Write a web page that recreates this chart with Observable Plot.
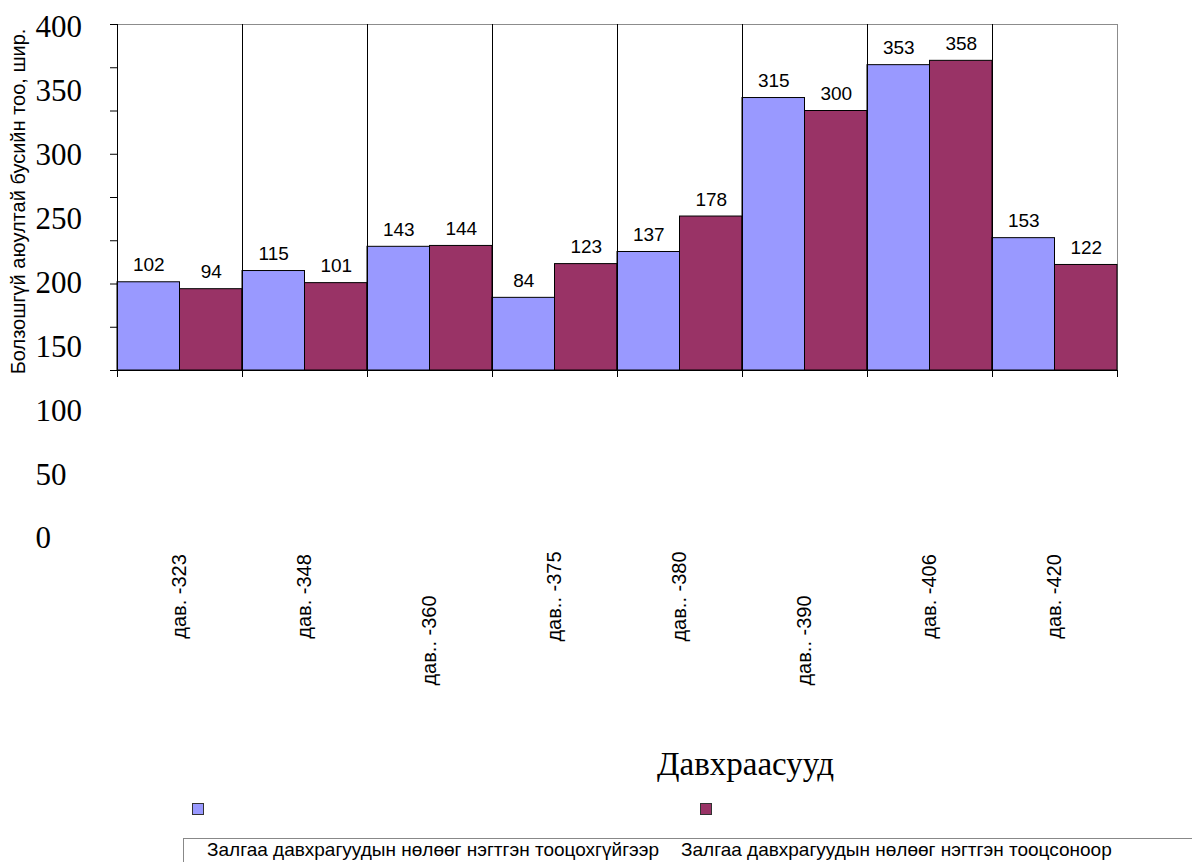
<!DOCTYPE html>
<html><head><meta charset="utf-8">
<script src="https://cdn.jsdelivr.net/npm/d3@7"></script>
<script src="https://cdn.jsdelivr.net/npm/@observablehq/plot@0.6"></script>
<style>
html,body{margin:0;padding:0;background:#fff;}
#wrap{position:relative;width:1192px;height:862px;overflow:hidden;font-family:"Liberation Sans",Arial,sans-serif;}
#wrap svg{position:absolute;left:0;top:0;}
#legend{position:absolute;left:0;top:790px;width:1192px;height:72px;}
.sw{position:absolute;top:13px;width:10px;height:10px;border:1px solid #333;}
.box{position:absolute;left:183px;top:48px;right:-2px;height:40px;border-top:1px solid #888;border-left:1px solid #888;}
.lt{position:absolute;top:49px;font-size:19px;line-height:22px;color:#000;white-space:nowrap;}
</style></head><body><div id="wrap"></div>
<script>
const categories = ["дав. -323", "дав. -348", "дав.. -360", "дав.. -375", "дав.. -380", "дав.. -390", "дав. -406", "дав. -420"];
const seriesNames = ["Залгаа давхрагуудын нөлөөг нэгтгэн тооцохгүйгээр", "Залгаа давхрагуудын нөлөөг нэгтгэн тооцсоноор"];
const valuesWithout = [102, 115, 143, 84, 137, 315, 353, 153];
const valuesWith = [94, 101, 144, 123, 178, 300, 358, 122];
const seriesColors = ["#9999FF", "#993366"];
const yTicks = [0, 50, 100, 150, 200, 250, 300, 350, 400];
const yTitle = "Болзошгүй аюултай бусийн тоо, шир.";
const xTitle = "Давхраасууд";

const rows = categories.flatMap((cat, i) => [
  {cat, i, s: 0, series: seriesNames[0], value: valuesWithout[i]},
  {cat, i, s: 1, series: seriesNames[1], value: valuesWith[i]}
]);
const n = categories.length;
const boundaries = d3.range(n + 1);
const lowered = new Set(["дав.. -360", "дав.. -390"]);
const sans = '"Liberation Sans", Arial, sans-serif';
const serif = '"Liberation Serif", "Times New Roman", serif';
const W = 1192, H = 862;

const main = Plot.plot({
  width: W, height: H,
  marginTop: 24, marginRight: 75, marginBottom: 492, marginLeft: 117,
  style: {fontFamily: sans, background: "transparent"},
  x: {domain: [0, n]},
  y: {domain: [0, 400]},
  color: {domain: seriesNames, range: seriesColors},
  marks: [
    Plot.frame({stroke: "#8c8c8c"}),
    Plot.rectY(rows, {x1: d => d.i + d.s / 2, x2: d => d.i + (d.s + 1) / 2, y: "value", fill: "series", stroke: "black", strokeWidth: 1}),
    Plot.ruleX(boundaries.slice(0, n), {stroke: "black"}),
    Plot.ruleY([0], {stroke: "black"}),
    Plot.axisY({ticks: yTicks, tickSize: 7, tickFormat: () => "", label: null, stroke: "black"}),
    Plot.axisX({ticks: boundaries, tickSize: 7, tickFormat: () => "", label: null, stroke: "black"}),
    Plot.text(rows, {x: d => d.i + (d.s + 0.5) / 2, y: "value", text: d => String(d.value), dy: -11, lineAnchor: "bottom", fontSize: 19, fill: "black"}),
    Plot.text(categories, {filter: d => !lowered.has(d), x: (d, i) => i + 0.5, text: d => d, frameAnchor: "bottom", rotate: -90, textAnchor: "middle", lineAnchor: "middle", dy: 226, fontSize: 20, fill: "black"}),
    Plot.text(categories, {filter: d => lowered.has(d), x: (d, i) => i + 0.5, text: d => d, frameAnchor: "bottom", rotate: -90, textAnchor: "middle", lineAnchor: "middle", dy: 270, fontSize: 20, fill: "black"}),
    Plot.text([yTitle], {frameAnchor: "left", rotate: -90, textAnchor: "middle", lineAnchor: "middle", dx: -99, dy: 4, fontSize: 20, fill: "black"}),
    Plot.text([xTitle], {frameAnchor: "bottom", textAnchor: "middle", lineAnchor: "middle", dx: 128, dy: 394, fontFamily: serif, fontSize: 33, fill: "black"})
  ]
});

const tickLabels = Plot.plot({
  width: W, height: H,
  marginLeft: 35, marginTop: 0, marginBottom: 0, marginRight: 0,
  style: {background: "transparent", fontFamily: serif},
  y: {domain: [0, 400], range: [538, 27], axis: null},
  marks: [
    Plot.text(yTicks, {y: d => d, text: d => String(d), frameAnchor: "left", textAnchor: "start", lineAnchor: "middle", fontFamily: serif, fontSize: 31, fill: "black"})
  ]
});

const wrap = document.getElementById("wrap");
wrap.appendChild(main);
wrap.appendChild(tickLabels);
tickLabels.style.pointerEvents = "none";

const legend = document.createElement("div");
legend.id = "legend";
const swX = [192, 700];
const txX = [207, 681];
seriesNames.forEach((name, k) => {
  const sw = document.createElement("div");
  sw.className = "sw";
  sw.style.left = swX[k] + "px";
  sw.style.background = seriesColors[k];
  legend.appendChild(sw);
});
const box = document.createElement("div");
box.className = "box";
legend.appendChild(box);
seriesNames.forEach((name, k) => {
  const t = document.createElement("span");
  t.className = "lt";
  t.style.left = txX[k] + "px";
  t.textContent = name;
  legend.appendChild(t);
});
wrap.appendChild(legend);
</script>
</body></html>
